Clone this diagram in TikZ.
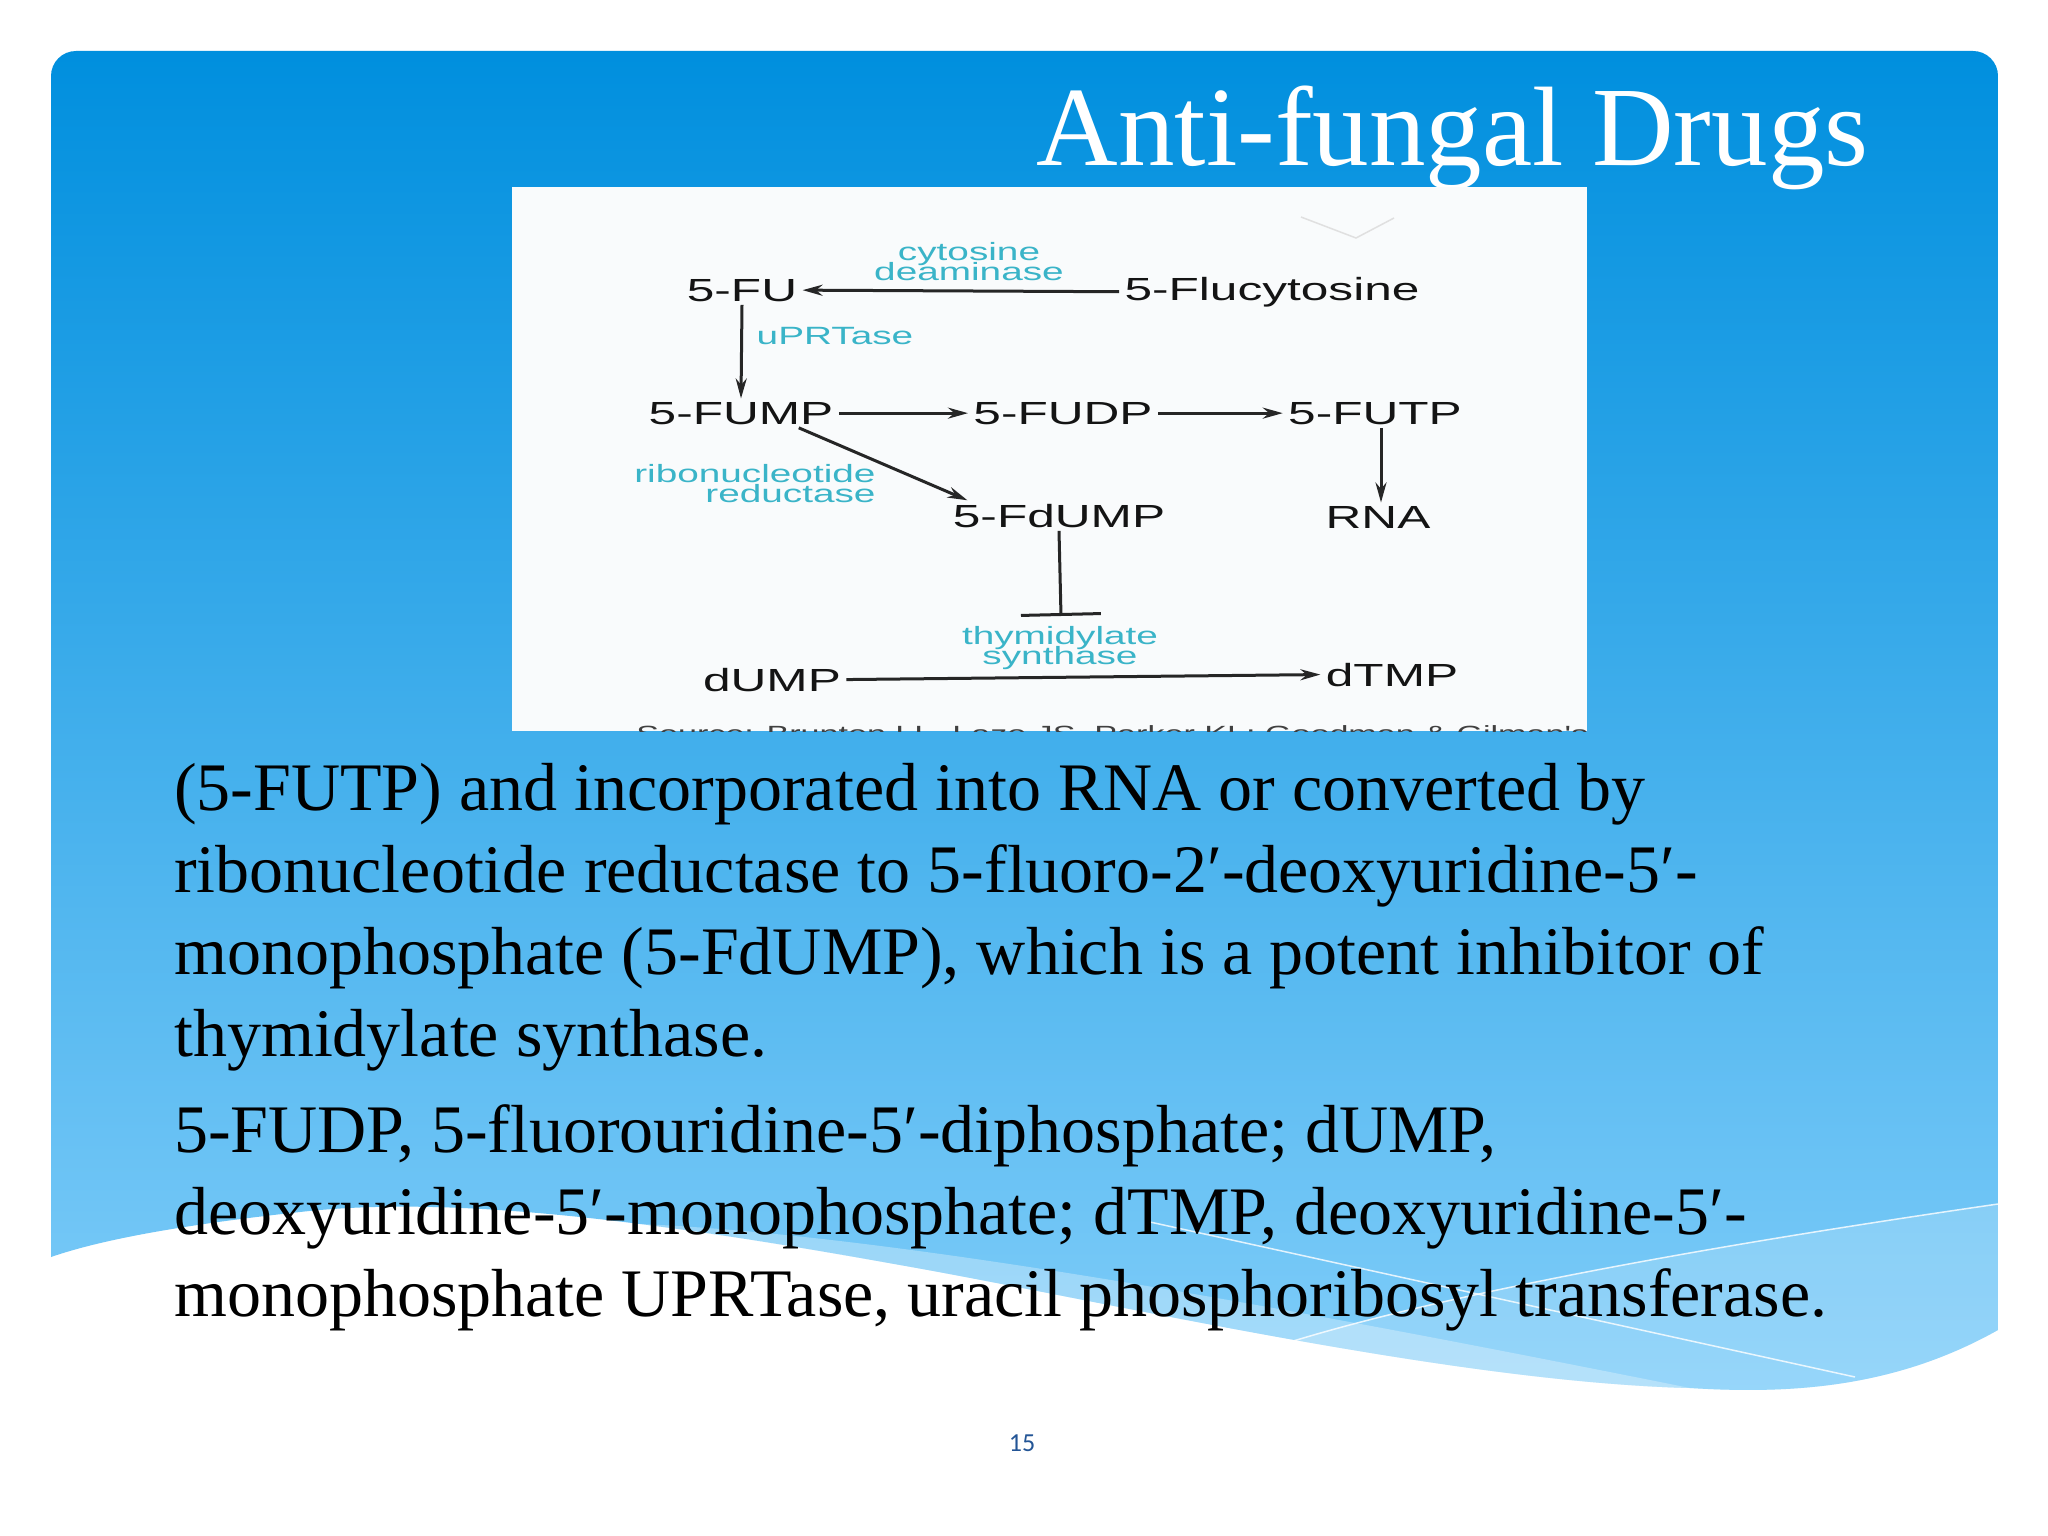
\documentclass[tikz,border=0pt]{standalone}
\usepackage{fontspec}
\setmainfont{Liberation Serif}
\newfontfamily\diagfont{Liberation Sans}
\newfontfamily\numfont{Carlito}
\usetikzlibrary{arrows.meta}

\definecolor{skytop}{RGB}{0,143,222}
\definecolor{skybot}{RGB}{128,205,249}
\definecolor{enzcyan}{RGB}{58,180,200}
\definecolor{pagenum}{RGB}{35,85,150}
\definecolor{figbg}{RGB}{249,251,252}

\newcommand\enzfont{\diagfont\fontsize{25bp}{20bp}\selectfont\lineskiplimit-30bp\relax}

\tikzset{
  mol/.style={font=\diagfont\fontsize{32bp}{36bp}\selectfont, text=black!92, xscale=1.55, anchor=base},
  enz/.style={font=\enzfont, text=enzcyan, xscale=1.55, align=center},
  conv/.style={-{Stealth[length=20bp,width=11bp]}, line width=3bp, black!85},
  inhibit/.style={-{Bar[width=80bp]}, line width=3bp, black!85}
}

\begin{document}
\begin{tikzpicture}[x=1bp, y=-1bp]
    \useasboundingbox (0,0) rectangle (2048,1536);
    \fill[white] (0,0) rectangle (2048,1536);

    % sky background and wave
    \shade[top color=skytop, bottom color=skybot] (51,1257) [rounded corners=25bp] -- (51,51) -- (1998,51) -- (1998,500) [sharp corners] -- (1998,1330)
        .. controls (1900,1385) and (1800,1395) .. (1690,1388)
        .. controls (1450,1382) and (1100,1300) .. (900,1265)
        .. controls (650,1220) and (450,1195) .. (300,1212)
        .. controls (180,1225) and (100,1240) .. (51,1257) -- cycle;
    \fill[white, fill opacity=.3] (1690,1388) .. controls (1450,1382) and (1100,1300) .. (900,1265)
        .. controls (800,1247) and (700,1232) .. (640,1224)
        .. controls (900,1235) and (1300,1310) .. (1690,1388) -- cycle;
    \fill[white, fill opacity=.18] (1998,1204) .. controls (1750,1240) and (1450,1290) .. (1290,1342)
        .. controls (1450,1375) and (1600,1386) .. (1690,1388)
        .. controls (1800,1395) and (1900,1385) .. (1998,1330) -- cycle;
    \draw[white, line width=1.5bp, opacity=.8] (1998,1204) .. controls (1750,1240) and (1450,1290) .. (1271,1348);
    \draw[white, line width=1.5bp, opacity=.8] (1150,1222) -- (1855,1377);

    % title
    \node (title) [anchor=base east, text=white, font=\fontsize{113bp}{120bp}\selectfont] at (1872,166) {Anti-fungal Drugs};

    % the pathway figure
    \fill[figbg] (512,187) rectangle (1587,731);
    \draw[black!12, line width=1.5bp] (1301,217) -- (1356,238) -- (1394,218);

    \node (fu) [mol] at (742,301) {5-FU};
    \node (flu) [mol] at (1272,300) {5-Flucytosine};
    \node (fump) [mol] at (741,424) {5-FUMP};
    \node (fudp) [mol] at (1063,424) {5-FUDP};
    \node (futp) [mol] at (1375,424) {5-FUTP};
    \node (rna) [mol] at (1378,528) {RNA};
    \node (fdump) [mol] at (1059,527) {5-FdUMP};
    \node (dump) [mol] at (772,691) {dUMP};
    \node (dtmp) [mol] at (1392,686) {dTMP};

    \node (cd) [enz] at (969,262) {cytosine\\deaminase};
    \node (upr) [enz] at (835,336) {uPRTase};
    \node (rr) [enz, anchor=east, align=right] at (881,484) {ribonucleotide\\reductase};
    \node (ts) [enz] at (1060,648) {thymidylate\\synthase};
    \coordinate (tsbar) at (1061,616);

    \draw[conv] (flu.west) -- (fu.east);
    \draw[conv] (fu.south) -- (fump.north);
    \draw[conv] (fump.east) -- (fudp.west);
    \draw[conv] (fudp.east) -- (futp.west);
    \draw[conv] ([xshift=6bp]futp.south) -- ([xshift=6bp]futp.south |- rna.north);
    \draw[conv] ([xshift=-40bp]fump.south east) -- ([xshift=20bp]fdump.north west);
    \draw[inhibit] (fdump.south) -- (tsbar);
    \draw[conv] (dump.east) -- (dtmp.west);

    \begin{scope}
        \clip (512,187) rectangle (1587,731);
        \node (src) [anchor=base west, font=\diagfont\fontsize{22bp}{24bp}\selectfont, text=black!75, xscale=1.55] at (631,741) {Source: Brunton LL, Lazo JS, Parker KL: Goodman \& Gilman's Pharmacological};
    \end{scope}

    % slide text (base anchor sits on the last line)
    \node (para1) [anchor=base west, align=left, inner sep=0pt, font=\fontsize{68bp}{82bp}\selectfont] at (174,1056)
        {(5-FUTP) and incorporated into RNA or converted by\\
         ribonucleotide reductase to 5-fluoro-2′-deoxyuridine-5′-\\
         monophosphate (5-FdUMP), which is a potent inhibitor of\\
         thymidylate synthase.};
    \node (para2) [anchor=base west, align=left, inner sep=0pt, font=\fontsize{68bp}{82bp}\selectfont] at (174,1316)
        {5-FUDP, 5-fluorouridine-5′-diphosphate; dUMP,\\
         deoxyuridine-5′-monophosphate; dTMP, deoxyuridine-5′-\\
         monophosphate UPRTase, uracil phosphoribosyl transferase.};

    \node (pg) [font=\numfont\fontsize{26bp}{30bp}\selectfont, text=pagenum] at (1022,1443) {15};
\end{tikzpicture}
\end{document}
